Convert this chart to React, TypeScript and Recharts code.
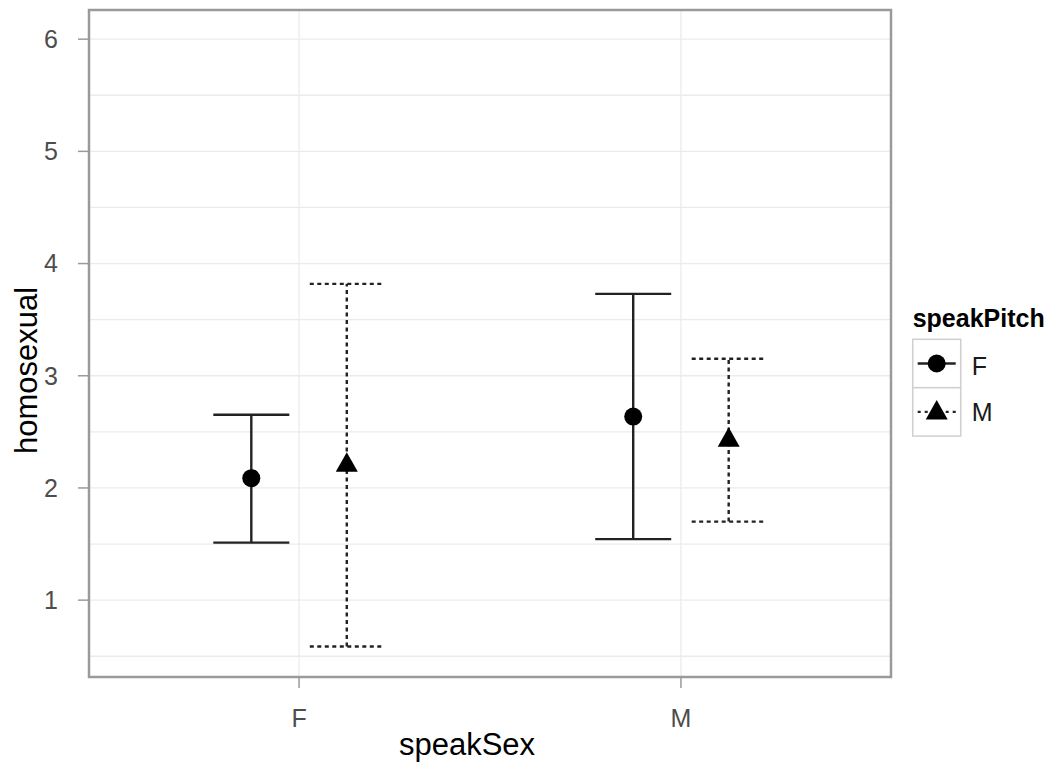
import React from 'react';
import {
  ScatterChart,
  Scatter,
  XAxis,
  YAxis,
  CartesianGrid,
  ErrorBar,
  ReferenceArea,
  Legend,
} from 'recharts';

// ---- data ----
const speakSexCategories = ['F', 'M'];
const speakPitchLevels = ['F', 'M'];

const pitchFMean = [2.087, 2.636];
const pitchFLower = [1.513, 1.544];
const pitchFUpper = [2.652, 3.73];

const pitchMMean = [2.203, 2.426];
const pitchMLower = [0.587, 1.7];
const pitchMUpper = [3.819, 3.151];

const yTicks = [1, 2, 3, 4, 5, 6];
const yGridValues = [0.5, 1, 1.5, 2, 2.5, 3, 3.5, 4, 4.5, 5, 5.5, 6];
const xTicks = [1, 2];

// ---- layout ----
const FONT = '"Liberation Sans", Arial, Helvetica, sans-serif';
const X_DOMAIN: [number, number] = [0.45, 2.55];
const Y_DOMAIN: [number, number] = [0.315, 6.26];
const DODGE = 0.125;
const LINE_COLOR = '#222222';

const buildSeries = (means: number[], lower: number[], upper: number[], offset: number) =>
  speakSexCategories.map((cat, i) => ({
    speakSex: cat,
    x: i + 1 + offset,
    y: means[i],
    err: [means[i] - lower[i], upper[i] - means[i]],
  }));

const seriesF = buildSeries(pitchFMean, pitchFLower, pitchFUpper, -DODGE);
const seriesM = buildSeries(pitchMMean, pitchMLower, pitchMUpper, DODGE);

const CircleShape = (props: any) => {
  const { cx, cy } = props;
  if (cx == null || cy == null) return null;
  return <circle cx={cx} cy={cy} r={9} fill="#000" />;
};

const TriangleShape = (props: any) => {
  const { cx, cy } = props;
  if (cx == null || cy == null) return null;
  const h = 19.5;
  const w = 22;
  const top = cy - (2 / 3) * h;
  const bottom = cy + h / 3;
  return (
    <polygon
      points={`${cx},${top} ${cx - w / 2},${bottom} ${cx + w / 2},${bottom}`}
      fill="#000"
    />
  );
};

const YTitle = (props: any) => {
  const vb = props.viewBox || { x: 0, y: 0, width: 0, height: 0 };
  const x = vb.x + 37;
  const y = vb.y + vb.height / 2 + 27;
  return (
    <text
      x={x}
      y={y}
      transform={`rotate(-90, ${x}, ${y})`}
      textAnchor="middle"
      fontSize={31}
      fontFamily={FONT}
      fill="#000"
    >
      homosexual
    </text>
  );
};

const XTitle = (props: any) => {
  const vb = props.viewBox || { x: 0, y: 0, width: 0, height: 0 };
  const x = vb.x + vb.width / 2 - 23;
  const y = vb.y + 78;
  return (
    <text x={x} y={y} textAnchor="middle" fontSize={31} fontFamily={FONT} fill="#000">
      speakSex
    </text>
  );
};

const LegendContent = () => {
  const boxX = 7.7;
  const boxW = 48;
  const boxTops = [39.3, 87.7];
  const boxH = 48.4;
  const labelBaselines = [75, 121];
  return (
    <svg width={150} height={140} style={{ overflow: 'visible' }}>
      <text x={boxX} y={26.7} fontSize={25} fontWeight="bold" fontFamily={FONT} fill="#000">
        speakPitch
      </text>
      {speakPitchLevels.map((lvl, i) => {
        const cy = boxTops[i] + boxH / 2;
        const cx = boxX + boxW / 2;
        return (
          <g key={lvl}>
            <rect
              x={boxX}
              y={boxTops[i]}
              width={boxW}
              height={boxH}
              fill="#fff"
              stroke="#cfcfcf"
              strokeWidth={1.5}
            />
            <line
              x1={boxX + 5}
              x2={boxX + boxW - 5}
              y1={cy}
              y2={cy}
              stroke={LINE_COLOR}
              strokeWidth={2.4}
              strokeDasharray={i === 0 ? undefined : '3 4'}
            />
            {i === 0 ? (
              <CircleShape cx={cx} cy={cy} />
            ) : (
              <TriangleShape cx={cx} cy={cy + 1} />
            )}
            <text
              x={boxX + boxW + 11}
              y={labelBaselines[i]}
              fontSize={25}
              fontFamily={FONT}
              fill="#1a1a1a"
            >
              {lvl}
            </text>
          </g>
        );
      })}
    </svg>
  );
};

export default function App() {
  return (
    <div style={{ position: 'absolute', left: 0, top: 0, background: '#fff' }}>
      <ScatterChart
        width={1056}
        height={765}
        margin={{ top: 10, right: 165, bottom: 0, left: 0 }}
      >
        <CartesianGrid
          horizontalValues={yGridValues}
          verticalValues={xTicks}
          stroke="#ebebeb"
          strokeWidth={1.3}
        />
        <XAxis
          type="number"
          dataKey="x"
          domain={X_DOMAIN}
          ticks={xTicks}
          allowDataOverflow
          tickFormatter={(v: number) => speakSexCategories[Math.round(v) - 1] ?? ''}
          axisLine={false}
          tickLine={{ stroke: '#9a9a9a', strokeWidth: 1.5 }}
          tickSize={11}
          tickMargin={21}
          height={88}
          tick={{ fontSize: 25, fill: '#4d4d4d', fontFamily: FONT }}
          label={<XTitle />}
        />
        <YAxis
          type="number"
          dataKey="y"
          domain={Y_DOMAIN}
          ticks={yTicks}
          allowDataOverflow
          axisLine={false}
          tickLine={{ stroke: '#9a9a9a', strokeWidth: 1.5 }}
          tickSize={11}
          tickMargin={20}
          width={89}
          tick={{ fontSize: 25, fill: '#4d4d4d', fontFamily: FONT }}
          label={<YTitle />}
        />
        <Scatter
          name="F"
          data={seriesF}
          shape={CircleShape}
          isAnimationActive={false}
          legendType="circle"
        >
          <ErrorBar
            dataKey="err"
            direction="y"
            width={38}
            stroke={LINE_COLOR}
            strokeWidth={2.4}
            isAnimationActive={false}
          />
        </Scatter>
        <Scatter
          name="M"
          data={seriesM}
          shape={TriangleShape}
          isAnimationActive={false}
          legendType="triangle"
        >
          <ErrorBar
            dataKey="err"
            direction="y"
            width={37}
            stroke={LINE_COLOR}
            strokeWidth={2.4}
            strokeDasharray="4 3.5"
            isAnimationActive={false}
          />
        </Scatter>
        <ReferenceArea
          x1={X_DOMAIN[0]}
          x2={X_DOMAIN[1]}
          y1={Y_DOMAIN[0]}
          y2={Y_DOMAIN[1]}
          fill="none"
          fillOpacity={0}
          stroke="#9a9a9a"
          strokeWidth={2.5}
          ifOverflow="visible"
        />
        <Legend
          layout="horizontal"
          align="center"
          verticalAlign="middle"
          content={<LegendContent />}
          wrapperStyle={{ left: 905, top: 300, width: 150, height: 140 }}
        />
      </ScatterChart>
    </div>
  );
}
